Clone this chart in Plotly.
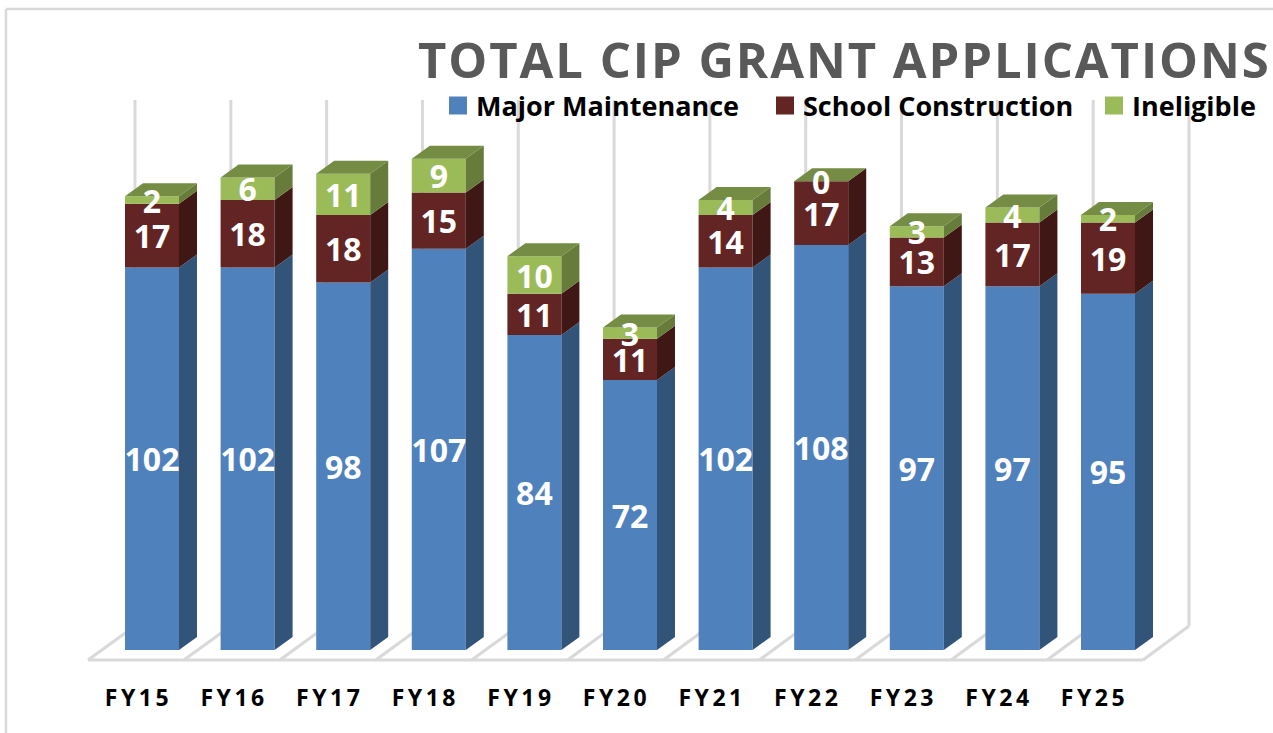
import plotly.graph_objects as go

categories = ["FY15","FY16","FY17","FY18","FY19","FY20","FY21","FY22","FY23","FY24","FY25"]
major = [102,102,98,107,84,72,102,108,97,97,95]
school = [17,18,18,15,11,11,14,17,13,17,19]
inel = [2,6,11,9,10,3,4,0,3,4,2]
series_names = ["Major Maintenance","School Construction","Ineligible"]
front_colors = ["#4f81bd","#632523","#9bbb59"]
side_colors = ["#335479","#3f1715","#677c3b"]
top_color = "#748c43"
grid_color = "#d9d9d9"

W, H = 1273, 733
PITCH = 95.6          # px per category
CENTER0 = 152.0       # px of first bar centre
BASE = 650.0          # px of value 0
UNIT = 3.75           # px per application
BOTTOM = 682
BAR_W = 54 / PITCH
DX = 18 / PITCH       # depth of the pseudo-3D box
DY = 13 / UNIT
LABEL_DROP = 4.5 / UNIT

def px_x(p): return (p - CENTER0) / PITCH
def px_y(p): return (BASE - p) / UNIT

idx = list(range(len(categories)))
fig = go.Figure()
stacks = [major, school, inel]
bottoms = [0] * len(idx)
for name, vals, fc, sc in zip(series_names, stacks, front_colors, side_colors):
    fig.add_trace(go.Bar(x=idx, y=vals, base=bottoms, width=BAR_W, marker=dict(color=fc, line=dict(width=0)),
                         name=name, showlegend=False, hoverinfo="x+y"))
    xs, ys = [], []
    for i, b, v in zip(idx, bottoms, vals):
        r = i + BAR_W / 2
        xs += [r, r + DX, r + DX, r, r, None]
        ys += [b, b + DY, b + v + DY, b + v, b, None]
    fig.add_trace(go.Scatter(x=xs, y=ys, mode="lines", fill="toself", fillcolor=sc, line=dict(width=0),
                             showlegend=False, hoverinfo="skip"))
    bottoms = [b + v for b, v in zip(bottoms, vals)]

# top faces
xs, ys = [], []
for i, t in zip(idx, bottoms):
    l, r = i - BAR_W / 2, i + BAR_W / 2
    xs += [l, r, r + DX, l + DX, l, None]
    ys += [t, t, t + DY, t + DY, t, None]
fig.add_trace(go.Scatter(x=xs, y=ys, mode="lines", fill="toself", fillcolor=top_color, line=dict(width=0),
                         showlegend=False, hoverinfo="skip"))

# value labels
bottoms = [0] * len(idx)
for vals in stacks:
    fig.add_trace(go.Scatter(x=idx, y=[b + v / 2 - LABEL_DROP for b, v in zip(bottoms, vals)], mode="text",
                             text=[str(v) for v in vals], textposition="middle center",
                             textfont=dict(family="Open Sans", size=32, color="white", weight=700),
                             showlegend=False, hoverinfo="skip", cliponaxis=False))
    bottoms = [b + v for b, v in zip(bottoms, vals)]

# legend entries: one single-entry legend per series, placed independently
legend_ids = ["legend", "legend2", "legend3"]
legend_left = [436, 763, 1092]
for name, fc, lid in zip(series_names, front_colors, legend_ids):
    fig.add_trace(go.Scatter(x=[None], y=[None], mode="markers", name=name, legend=lid,
                             marker=dict(symbol="square", size=16, color=fc)))
legends = {lid: dict(x=left / W, xanchor="left", y=1 - 106 / BOTTOM, yanchor="middle",
                     font=dict(family="Open Sans", size=27, color="black", weight=700),
                     bgcolor="rgba(0,0,0,0)")
           for lid, left in zip(legend_ids, legend_left)}

# floor and walls
shapes = []
def line(x0, y0, x1, y1):
    shapes.append(dict(type="line", xref="x", yref="y", x0=px_x(x0), y0=px_y(y0), x1=px_x(x1), y1=px_y(y1),
                       line=dict(color=grid_color, width=3), layer="below"))
FLOOR_Y, BACK_Y, TOP_Y = 660, 626, 100
line(88, FLOOR_Y, 1143, FLOOR_Y)
for k in range(12):
    fx = 88 + k * (1143 - 88) / 11
    bx = 135 + k * (1189 - 135) / 11
    line(fx, FLOOR_Y, bx, BACK_Y)
    line(bx, BACK_Y, bx, TOP_Y)
# outer frame
for x0, y0, x1, y1 in [(6, 9, W, 9), (6, 9, 6, H)]:
    shapes.append(dict(type="line", xref="paper", yref="paper", x0=x0 / W, x1=x1 / W,
                       y0=1 - y0 / BOTTOM, y1=1 - y1 / BOTTOM,
                       line=dict(color=grid_color, width=2.5), layer="below"))

fig.update_layout(
    width=W, height=H, margin=dict(l=0, r=0, t=0, b=H - BOTTOM),
    paper_bgcolor="white", plot_bgcolor="white", barmode="overlay", shapes=shapes,
    title=dict(text="TOTAL CIP GRANT APPLICATIONS", x=418 / W, xanchor="left", xref="container",
               y=1 - 61 / H, yanchor="middle", yref="container",
               font=dict(family="Open Sans", size=49, color="#595959", weight=700)),
    xaxis=dict(range=[px_x(0), px_x(W)], tickmode="array", tickvals=[i - 13.5 / PITCH for i in idx],
               ticktext=categories, showgrid=False, zeroline=False, showline=False, ticks="",
               tickangle=0, tickfont=dict(family="Open Sans", size=23, color="black", weight=700)),
    yaxis=dict(range=[px_y(BOTTOM), px_y(0)], visible=False, showgrid=False, zeroline=False),
    **legends,
)

post = """
document.body.style.margin='0';
document.querySelectorAll('.xtick text').forEach(t=>t.style.letterSpacing='3.5px');
document.querySelectorAll('.gtitle').forEach(t=>t.style.letterSpacing='1.95px');
document.querySelectorAll('.legendpoints path').forEach(p=>{
  p.setAttribute('transform', 'translate(22,0) scale(1.125)');
});
"""
fig.write_html("out.html", post_script=post, config={"displayModeBar": False})
